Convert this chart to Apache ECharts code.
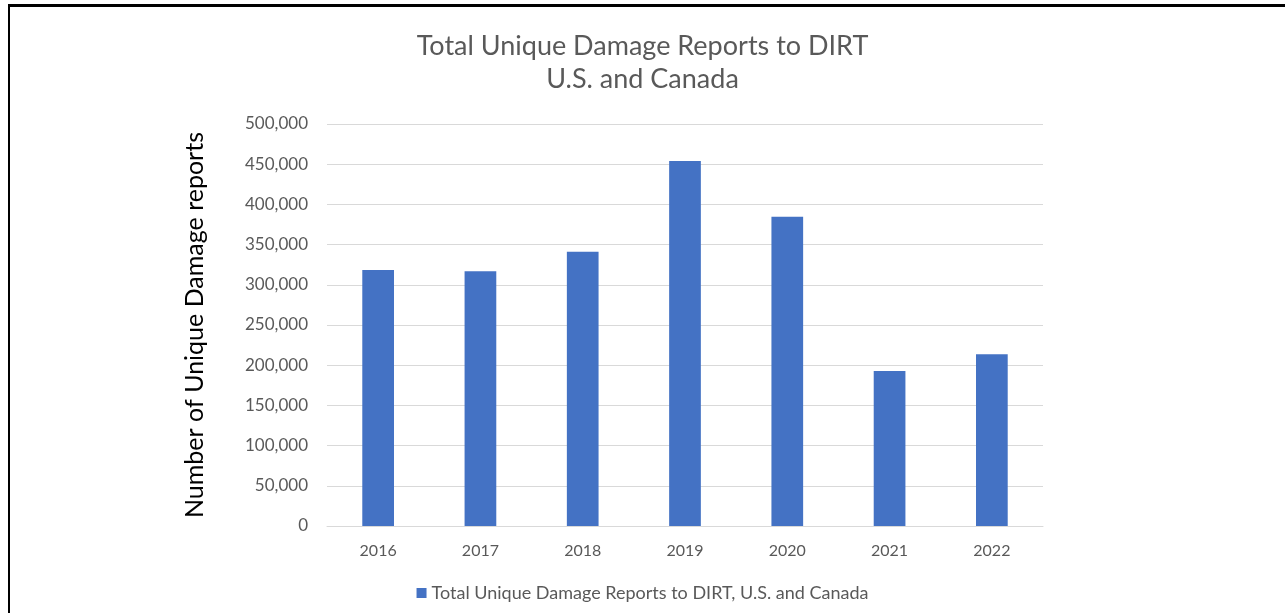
<!DOCTYPE html>
<html>
<head>
<meta charset="utf-8">
<script src="https://cdn.jsdelivr.net/npm/echarts@6/dist/echarts.min.js"></script>
<style>
  html, body { margin: 0; padding: 0; background: #fff; }
  #chart { position: absolute; left: 0; top: 0; width: 1285px; height: 613px; }
  /* black frame on top and left, as in the screenshot */
  #frame { position: absolute; left: 8px; top: 4px; right: 0; bottom: 0;
           border-left: 2px solid #000; border-top: 3px solid #000; pointer-events: none; }
</style>
</head>
<body>
<div id="chart"></div>
<div id="frame"></div>
<script>
const years = ['2016', '2017', '2018', '2019', '2020', '2021', '2022']
const reports = [318400, 316800, 341200, 454000, 384700, 192800, 213600]
const seriesName = 'Total Unique Damage Reports to DIRT, U.S. and Canada'

const font = 'Lato, "Open Sans", sans-serif'
const grey = '#595959'

const chart = echarts.init(document.getElementById('chart'))
chart.setOption({
  animation: false,
  textStyle: { fontFamily: font },
  title: {
    text: 'Total Unique Damage Reports to DIRT\nU.S. and Canada',
    left: 'center',
    top: 25,
    textStyle: { color: grey, fontSize: 27, fontWeight: 'normal', lineHeight: 33, fontFamily: font }
  },
  legend: {
    bottom: 6,
    left: 'center',
    itemWidth: 10,
    itemHeight: 10,
    itemGap: 4,
    icon: 'rect',
    textStyle: { color: grey, fontSize: 18, fontFamily: font },
    data: [seriesName]
  },
  grid: { left: 327, right: 242, top: 124, bottom: 87 },
  xAxis: {
    type: 'category',
    data: years,
    axisTick: { show: false },
    axisLine: { lineStyle: { color: '#D9D9D9', width: 1 } },
    axisLabel: { color: grey, fontSize: 16, margin: 17 }
  },
  yAxis: {
    type: 'value',
    min: 0,
    max: 500000,
    interval: 50000,
    name: 'Number of Unique Damage reports',
    nameLocation: 'middle',
    nameGap: 120,
    nameTextStyle: { color: '#000', fontSize: 25, fontFamily: font },
    axisLine: { show: false },
    axisTick: { show: false },
    axisLabel: {
      color: grey,
      fontSize: 17,
      margin: 19,
      formatter: v => v.toLocaleString('en-US')
    },
    splitLine: { lineStyle: { color: '#D9D9D9', width: 1 } }
  },
  series: [{
    name: seriesName,
    type: 'bar',
    data: reports,
    barWidth: '31%',
    itemStyle: { color: '#4472C4' }
  }]
})
</script>
</body>
</html>
